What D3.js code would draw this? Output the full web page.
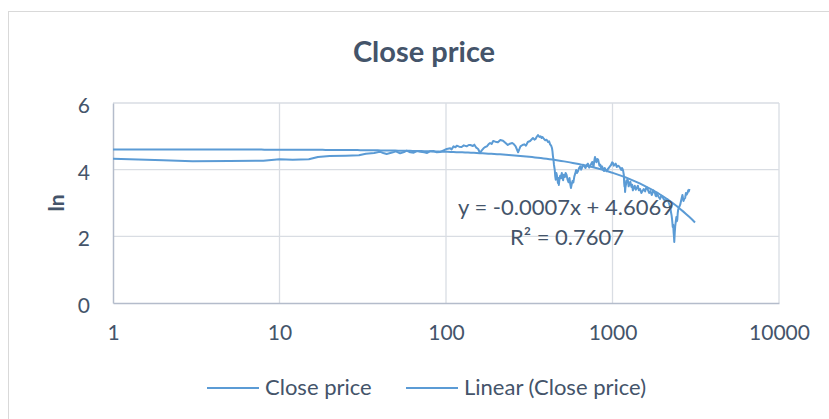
<!DOCTYPE html>
<html>
<head>
<meta charset="utf-8">
<script src="https://cdn.jsdelivr.net/npm/d3@7"></script>
<style>
body { margin: 0; background: #fff; }
text { font-family: Lato, "Open Sans", sans-serif; }
</style>
</head>
<body>
<svg width="829" height="419"></svg>
<script>
// day index (x) and ln(close price)
var idx = [1, 2, 3, 5, 8, 10, 12, 15, 17, 20, 25, 30, 33, 37, 40, 42, 44, 48, 50, 53, 56, 58, 61, 64, 67, 70,
  74, 77, 80, 84, 88, 92, 96, 101, 106, 108, 111, 114, 116, 120, 124, 128, 133, 137, 140, 145, 148, 152,
  156, 160, 164, 168, 172, 176, 180, 184, 188, 192, 198, 205, 212, 220, 228, 235, 242, 250, 256, 262,
  266, 271, 276, 280, 288, 295, 302, 310, 320, 333, 340, 345, 350, 357, 364, 370, 375, 380, 388, 395,
  402, 410, 416, 422, 428, 433, 436, 439, 442, 445, 448, 450, 453, 456, 460, 463, 467, 470, 473, 476,
  480, 485, 490, 496, 500, 505, 510, 517, 523, 530, 537, 545, 552, 558, 563, 570, 575, 582, 590, 597,
  605, 612, 620, 630, 640, 648, 655, 665, 675, 688, 700, 712, 725, 740, 755, 762, 770, 778, 785, 792,
  800, 810, 820, 828, 835, 845, 855, 865, 875, 882, 890, 898, 905, 915, 925, 938, 950, 965, 980, 995,
  1007, 1018, 1030, 1045, 1060, 1078, 1095, 1112, 1130, 1140, 1150, 1160, 1170, 1175, 1180, 1185, 1190,
  1197, 1205, 1212, 1220, 1235, 1250, 1265, 1280, 1290, 1300, 1312, 1325, 1342, 1360, 1380, 1400, 1420,
  1440, 1465, 1490, 1515, 1540, 1570, 1600, 1630, 1660, 1690, 1720, 1740, 1760, 1780, 1800, 1815, 1830,
  1845, 1860, 1895, 1930, 1965, 2000, 2040, 2080, 2115, 2150, 2175, 2200, 2225, 2250, 2265, 2280, 2290,
  2300, 2315, 2330, 2340, 2350, 2365, 2380, 2400, 2420, 2435, 2450, 2465, 2480, 2515, 2550, 2590, 2630,
  2650, 2670, 2700, 2730, 2760, 2790, 2820, 2850, 2875, 2900];
var lnClose = [4.33, 4.28, 4.25, 4.26, 4.27, 4.31, 4.30, 4.31, 4.38, 4.41, 4.42, 4.43, 4.48, 4.50, 4.54, 4.50, 4.47, 4.52, 4.55, 4.49, 4.53, 4.57, 4.52, 4.51, 4.56, 4.54,
  4.52, 4.50, 4.55, 4.56, 4.52, 4.53, 4.57, 4.62, 4.64, 4.61, 4.70, 4.67, 4.72, 4.69, 4.68, 4.73, 4.70, 4.74, 4.74, 4.71, 4.75, 4.66,
  4.62, 4.50, 4.58, 4.64, 4.68, 4.70, 4.76, 4.80, 4.77, 4.86, 4.84, 4.82, 4.89, 4.87, 4.80, 4.74, 4.78, 4.80, 4.76, 4.70,
  4.62, 4.52, 4.62, 4.70, 4.74, 4.76, 4.72, 4.83, 4.86, 4.95, 4.90, 4.92, 4.98, 5.04, 4.98, 5.00, 4.95, 4.98, 4.92, 4.88,
  4.90, 4.83, 4.85, 4.76, 4.72, 4.65, 4.55, 4.40, 4.30, 4.15, 4.05, 3.99, 3.80, 3.70, 3.90, 3.84, 3.72, 3.60, 3.75, 3.54,
  3.70, 3.82, 3.74, 3.90, 3.78, 3.68, 3.85, 3.78, 3.90, 3.84, 3.70, 3.62, 3.75, 3.55, 3.45, 3.58, 3.66, 3.62, 3.80, 3.88,
  3.99, 3.90, 3.95, 4.05, 4.10, 4.00, 4.05, 4.15, 4.12, 4.05, 4.14, 4.18, 4.06, 4.15, 4.23, 4.15, 4.10, 4.28, 4.38, 4.30,
  4.22, 4.32, 4.30, 4.20, 4.12, 4.15, 4.05, 4.10, 4.04, 3.98, 3.96, 4.05, 4.02, 3.98, 3.95, 4.02, 4.05, 4.10, 4.14, 4.22,
  4.20, 4.12, 4.15, 4.18, 4.08, 4.12, 4.10, 4.05, 3.99, 4.05, 4.02, 3.95, 3.84, 3.60, 3.50, 3.62, 3.33,
  3.48, 3.55, 3.68, 3.62, 3.70, 3.50, 3.58, 3.64, 3.55, 3.48, 3.55, 3.38, 3.45, 3.52, 3.40, 3.45, 3.52,
  3.38, 3.42, 3.30, 3.36, 3.42, 3.35, 3.48, 3.40, 3.30, 3.36, 3.24, 3.30, 3.38, 3.34, 3.30, 3.22, 3.20,
  3.28, 3.26, 3.18, 3.12, 3.22, 3.18, 3.10, 3.05, 3.12, 3.10, 3.02, 2.95, 2.85, 2.70, 2.62, 2.50, 2.40,
  2.28, 2.35, 2.10, 2.00, 1.83, 2.10, 2.30, 2.45, 2.58, 2.45, 2.50, 2.70, 2.80, 2.88, 2.95, 3.10, 3.24,
  3.15, 3.06, 3.12, 3.15, 3.30, 3.25, 3.30, 3.38, 3.35, 3.42];

// linear trendline from the chart label
var slope = -0.0007, intercept = 4.6069, trendEnd = 3130;
var xTicks = [1, 10, 100, 1000, 10000];
var yTicks = [0, 2, 4, 6];

var textColor = "#44546a";

var svg = d3.select("svg"),
    margin = {top: 103, right: 50, bottom: 116, left: 113},
    width = +svg.attr("width") - margin.left - margin.right,
    height = +svg.attr("height") - margin.top - margin.bottom;

svg.append("rect")
  .attr("x", 8.5).attr("y", 11.5)
  .attr("width", 840).attr("height", 430)
  .attr("fill", "#fff")
  .attr("stroke", "#d9d9d9");

var g = svg.append("g").attr("transform", "translate(" + margin.left + "," + margin.top + ")");

var x = d3.scaleLog().domain([1, 10000]).range([0, width]);
var y = d3.scaleLinear().domain([0, 6]).range([height, 0]);

var data = idx.map(function(d, i) { return {x: d, y: lnClose[i]}; });

// gridlines
g.selectAll(".hgrid").data(yTicks.slice(1)).enter().append("line")
  .attr("x1", 0).attr("x2", width)
  .attr("y1", function(d) { return y(d); }).attr("y2", function(d) { return y(d); })
  .attr("stroke", "#d9dde3").attr("stroke-width", 1.3);

g.selectAll(".vgrid").data(xTicks.slice(1)).enter().append("line")
  .attr("y1", 0).attr("y2", height)
  .attr("x1", function(d) { return x(d); }).attr("x2", function(d) { return x(d); })
  .attr("stroke", "#d9dde3").attr("stroke-width", 1.3);

// axes
var xAxis = g.append("g")
  .attr("transform", "translate(0," + height + ")")
  .call(d3.axisBottom(x).tickValues(xTicks).tickFormat(d3.format("d")).tickSize(0).tickPadding(22));
xAxis.select(".domain").attr("stroke", "#b4bccb").attr("stroke-width", 1.5);

var yAxis = g.append("g")
  .call(d3.axisLeft(y).tickValues(yTicks).tickFormat(d3.format("d")).tickSize(0).tickPadding(23));
yAxis.select(".domain").attr("stroke", "#b4bccb").attr("stroke-width", 1.5);
yAxis.selectAll(".tick text").attr("dy", "0.45em");

g.selectAll(".tick text")
  .attr("fill", textColor)
  .style("font-size", "21px");

// series
var line = d3.line()
  .x(function(d) { return x(d.x); })
  .y(function(d) { return y(d.y); });

g.append("path")
  .datum(data)
  .attr("fill", "none")
  .attr("stroke", "#5b9bd5")
  .attr("stroke-width", 2)
  .attr("stroke-linejoin", "round")
  .attr("d", line);

var trend = d3.range(0, 201).map(function(i) {
  var t = Math.pow(trendEnd, i / 200);
  return {x: t, y: intercept + slope * t};
});

g.append("path")
  .datum(trend)
  .attr("fill", "none")
  .attr("stroke", "#5b9bd5")
  .attr("stroke-width", 2)
  .attr("d", line);

// trendline label
g.append("text")
  .attr("x", 453).attr("y", 112)
  .attr("text-anchor", "middle")
  .attr("fill", textColor)
  .style("font-size", "22px")
  .text("y = -0.0007x + 4.6069");
g.append("text")
  .attr("x", 454).attr("y", 142)
  .attr("text-anchor", "middle")
  .attr("fill", textColor)
  .style("font-size", "22px")
  .text("R² = 0.7607");

// titles
svg.append("text")
  .attr("x", 424).attr("y", 62)
  .attr("text-anchor", "middle")
  .attr("fill", textColor)
  .style("font-size", "29px")
  .style("font-weight", "bold")
  .text("Close price");

svg.append("text")
  .attr("transform", "translate(64,203) rotate(-90)")
  .attr("text-anchor", "middle")
  .attr("fill", textColor)
  .style("font-size", "21px")
  .style("font-weight", "bold")
  .text("ln");

// legend
var legend = svg.append("g").attr("transform", "translate(0,388)");
var items = [{label: "Close price", x: 207}, {label: "Linear (Close price)", x: 406}];
items.forEach(function(it) {
  legend.append("line")
    .attr("x1", it.x).attr("x2", it.x + 52)
    .attr("y1", 0).attr("y2", 0)
    .attr("stroke", "#5b9bd5").attr("stroke-width", 2);
  legend.append("text")
    .attr("x", it.x + 58).attr("y", 7)
    .attr("fill", textColor)
    .style("font-size", "22px")
    .text(it.label);
});
</script>
</body>
</html>
